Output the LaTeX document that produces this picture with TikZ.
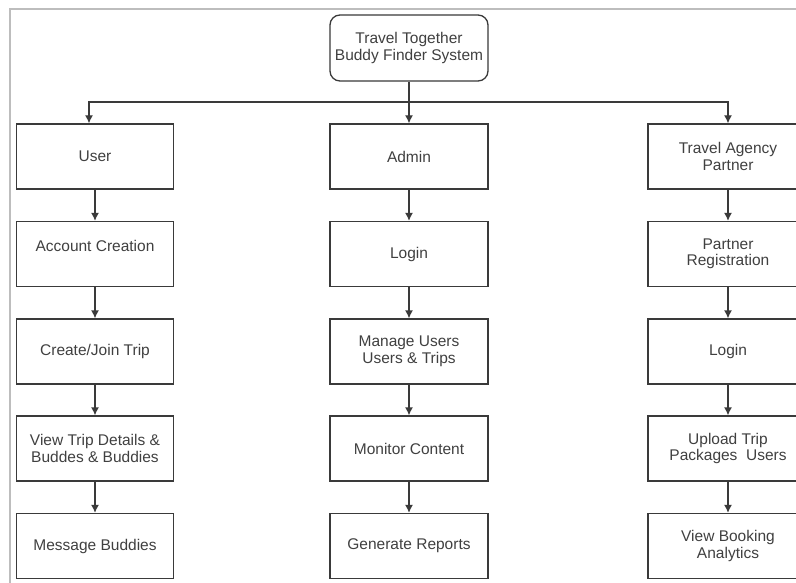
\documentclass[tikz,border=0pt]{standalone}
\usepackage{fontspec}
\setmainfont{Liberation Sans}
\usepackage{tikz}
\usetikzlibrary{calc,arrows.meta}
\definecolor{boxline}{HTML}{3A3A3A}
\definecolor{boxtext}{HTML}{404040}
\definecolor{framegray}{HTML}{BDBDBD}

\begin{document}
\begin{tikzpicture}[x=1pt,y=-1pt,
    box/.style={draw=boxline,line width=1.3pt,minimum width=157pt,minimum height=65pt,
        inner sep=2pt,align=center,text=boxtext,font=\fontsize{15.5}{16.5}\selectfont},
    flow/.style={draw=boxline,line width=1.3pt,-{Latex[length=8pt,width=8pt]}}]
    \useasboundingbox (0,0) rectangle (796,583);
    \clip (0,0) rectangle (796,583);
    \fill[white] (0,0) rectangle (796,583);
    \draw[framegray,line width=2pt] (10,583) -- (10,9) -- (796,9);

    \node[box,rounded corners=10pt,minimum width=158pt,minimum height=66pt] (sys) at (409,48) {Travel Together\\Buddy Finder System};
    \coordinate (split) at (409,102);

    % user column
    \node[box] (user) at (95,156.5) {User};
    \node[box] (account) at (95,254) {Account Creation\\~};
    \node[box] (trip) at (95,351.5) {Create/Join Trip};
    \node[box] (details) at (95,448.5) {View Trip Details \&\\ Buddes \& Buddies};
    \node[box] (message) at (95,546) {Message Buddies};

    % admin column
    \node[box,minimum width=158pt] (admin) at (409,156.5) {Admin};
    \node[box,minimum width=158pt] (alogin) at (409,254) {Login};
    \node[box,minimum width=158pt] (manage) at (409,351.5) {Manage Users\\Users \& Trips};
    \node[box,minimum width=158pt] (monitor) at (409,448.5) {Monitor Content};
    \node[box,minimum width=158pt] (reports) at (409,546) {Generate Reports};

    % partner column
    \node[box,minimum width=160pt] (agency) at (728,156.5) {Travel Agency\\Partner};
    \node[box,minimum width=160pt] (register) at (728,254) {Partner\\Registration};
    \node[box,minimum width=160pt] (plogin) at (728,351.5) {Login};
    \node[box,minimum width=160pt] (upload) at (728,448.5) {Upload Trip\\Packages\ \ Users};
    \node[box,minimum width=160pt] (booking) at (728,546) {View Booking\\Analytics};

    \draw[flow] (sys) -- (admin);
    \draw[flow] (split) -| ([xshift=-6pt]user.north);
    \draw[flow] (split) -| (agency);

    \draw[flow] (user) -- (account);
    \draw[flow] (account) -- (trip);
    \draw[flow] (trip) -- (details);
    \draw[flow] (details) -- (message);

    \draw[flow] (admin) -- (alogin);
    \draw[flow] (alogin) -- (manage);
    \draw[flow] (manage) -- (monitor);
    \draw[flow] (monitor) -- (reports);

    \draw[flow] (agency) -- (register);
    \draw[flow] (register) -- (plogin);
    \draw[flow] (plogin) -- (upload);
    \draw[flow] (upload) -- (booking);
\end{tikzpicture}
\end{document}
